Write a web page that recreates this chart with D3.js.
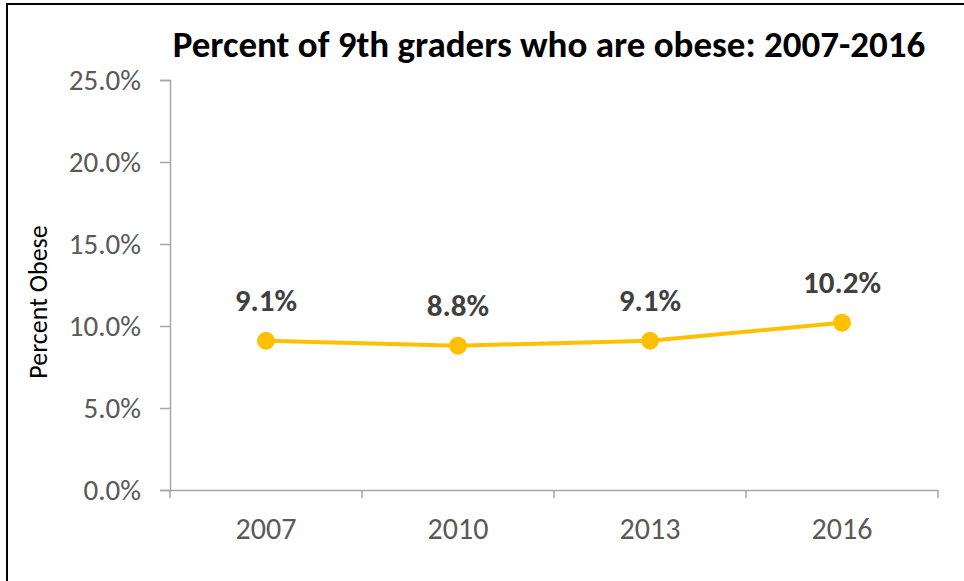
<!DOCTYPE html>
<html lang="en">
<head>
<meta charset="utf-8">
<title>Percent of 9th graders who are obese</title>
<script src="https://cdn.jsdelivr.net/npm/d3@7"></script>
<style>
  body { margin: 0; background: #fff; }
  svg text { font-family: Carlito, Calibri, Lato, sans-serif; }
</style>
</head>
<body>
<div id="chart"></div>
<script>
// data
var years = ["2007", "2010", "2013", "2016"];
var obese = [9.1, 8.8, 9.1, 10.2];
var yTicks = [0, 5, 10, 15, 20, 25];

var W = 964, H = 581;
var margin = {top: 80, right: 26, bottom: 91, left: 170};
var width = W - margin.left - margin.right;
var height = H - margin.top - margin.bottom;

var svg = d3.select("#chart").append("svg")
  .attr("width", W)
  .attr("height", H);

// outer frame (runs off the right and bottom edge)
svg.append("rect")
  .attr("x", 7).attr("y", 4)
  .attr("width", W).attr("height", H)
  .attr("fill", "none")
  .attr("stroke", "#000")
  .attr("stroke-width", 2);

var g = svg.append("g")
  .attr("transform", "translate(" + margin.left + "," + margin.top + ")");

var x = d3.scaleBand().domain(years).range([0, width]);
var y = d3.scaleLinear().domain([0, 25]).range([height, 0]);

//y axis
var yAxis = g.append("g")
  .call(d3.axisLeft(y).tickValues(yTicks).tickSize(10).tickPadding(19)
    .tickFormat(function(d) { return d3.format(".1f")(d) + "%"; }));
yAxis.selectAll("text").style("font-size", "29px").attr("fill", "#595959");

//x axis
var xAxis = g.append("g")
  .attr("transform", "translate(0," + height + ")")
  .call(d3.axisBottom(x).tickSize(0).tickPadding(28));
xAxis.selectAll("text").style("font-size", "30px").attr("fill", "#595959");
// category boundary ticks
xAxis.selectAll(".bound")
  .data(d3.range(years.length + 1)).enter()
  .append("line")
  .attr("class", "bound")
  .attr("x1", function(i) { return i * x.step(); })
  .attr("x2", function(i) { return i * x.step(); })
  .attr("y1", 0).attr("y2", 8)
  .attr("stroke", "#a6a6a6");

svg.selectAll(".domain, .tick line").attr("stroke", "#a6a6a6").attr("stroke-width", 1.5);
svg.selectAll(".bound").attr("stroke-width", 1.5);

var cx = function(d, i) { return x(years[i]) + x.bandwidth() / 2; };

var line = d3.line()
  .x(function(d, i) { return cx(d, i); })
  .y(function(d) { return y(d); });

g.append("path")
  .datum(obese)
  .attr("d", line)
  .attr("fill", "none")
  .attr("stroke", "#ffc000")
  .attr("stroke-width", 4);

g.selectAll(".dot")
  .data(obese).enter()
  .append("circle")
  .attr("class", "dot")
  .attr("cx", cx)
  .attr("cy", function(d) { return y(d); })
  .attr("r", 9)
  .attr("fill", "#ffc000");

g.selectAll(".lbl")
  .data(obese).enter()
  .append("text")
  .attr("class", "lbl")
  .attr("x", cx)
  .attr("y", function(d) { return y(d) - 30; })
  .attr("text-anchor", "middle")
  .style("font-size", "31px")
  .style("font-weight", "bold")
  .attr("fill", "#404040")
  .text(function(d) { return d3.format(".1f")(d) + "%"; });

//title
svg.append("text")
  .attr("x", 549)
  .attr("y", 57)
  .attr("text-anchor", "middle")
  .style("font-size", "37px")
  .style("font-weight", "bold")
  .attr("fill", "#000")
  .text("Percent of 9th graders who are obese: 2007-2016");

//y axis label
svg.append("text")
  .attr("transform", "translate(47,302) rotate(-90)")
  .attr("text-anchor", "middle")
  .style("font-size", "26px")
  .attr("fill", "#000")
  .text("Percent Obese");
</script>
</body>
</html>
